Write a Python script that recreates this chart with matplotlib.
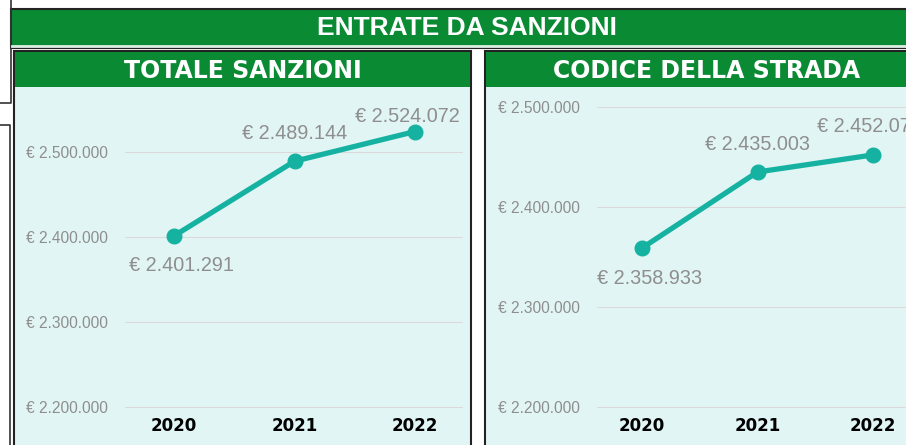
import matplotlib.pyplot as plt
from matplotlib.patches import Rectangle
from matplotlib.transforms import blended_transform_factory

years = [2020, 2021, 2022]
totale = [2401291, 2489144, 2524072]
codice = [2358933, 2435003, 2452075]
yticks = [2200000, 2300000, 2400000, 2500000]

title = "ENTRATE DA SANZIONI"
titles = ["TOTALE SANZIONI", "CODICE DELLA STRADA"]

W, H = 906, 445
GREEN = "#0B8A34"
TEAL = "#16B2A1"
BG = "#E2F5F5"
GRAY = "#8E8E8E"

plt.rcParams["font.family"] = ["Liberation Sans", "DejaVu Sans"]

fig = plt.figure(figsize=(W / 100, H / 100), dpi=100)
bg = fig.add_axes([0, 0, 1, 1])
bg.set_xlim(0, W)
bg.set_ylim(H, 0)
bg.axis("off")


def box(x0, y0, x1, y1, **kw):
    bg.add_patch(Rectangle((x0, y0), x1 - x0, y1 - y0, **kw))


# bits of other boxes on the far left
bg.plot([-5, 11, 11], [103, 103, -5], color="#333333", lw=1.2)
bg.plot([-5, 10, 10], [125, 125, 450], color="#333333", lw=1.2)

# top banner
box(11, 9, 930, 48, facecolor=GREEN, edgecolor="#222222", lw=1.5)
bg.plot([12, 930], [45.5, 45.5], color="#DDEEE4", lw=2)
bg.text(467, 28, title, color="white", fontsize=19, fontweight="bold",
        ha="center", va="center")

# panels
panels = [(14, 471), (485, 945)]
for (x0, x1), t in zip(panels, titles):
    box(x0, 51, x1, 460, facecolor=BG, edgecolor="#222222", lw=1.5)
    box(x0 + 1, 52, x1 - 1, 87, facecolor=GREEN, edgecolor="none")
    bg.text((x0 + x1) / 2 if x1 < 900 else 707, 71, t, color="white",
            fontsize=17, fontweight="bold", ha="center", va="center",
            family=["DejaVu Sans"])


def px(p):
    return 1 - p / H


def make_ax(left, right, top, bottom, xlim, ylim, vals, labs):
    ax = fig.add_axes([left / W, px(bottom), (right - left) / W, (bottom - top) / H])
    ax.set_facecolor("none")
    ax.set_xlim(*xlim)
    ax.set_ylim(*ylim)
    ax.plot(years, vals, color=TEAL, lw=3.8, marker="o", ms=10.5, zorder=3,
            clip_on=False)
    ax.set_yticks(yticks)
    ax.set_yticklabels(["€ " + f"{v:,}".replace(",", ".") for v in yticks],
                       color=GRAY, fontsize=11.2)
    ax.yaxis.grid(True, color="#DADADA", lw=0.8)
    ax.set_xticks([])
    tr = blended_transform_factory(ax.transData, ax.transAxes)
    for yr in years:
        ax.text(yr, -0.05, str(yr), transform=tr, ha="center", va="center",
                fontsize=12, fontweight="bold", color="black",
                family=["DejaVu Sans"])
    for yr, v, (dx, dy) in zip(years, vals, labs):
        ax.annotate("€ " + f"{v:,}".replace(",", "."), (yr, v),
                    xytext=(dx, dy), textcoords="offset pixels",
                    ha="center", va="center", fontsize=14.3, color=GRAY,
                    annotation_clip=False)
    ax.tick_params(axis="y", length=0, pad=12)
    for s in ax.spines.values():
        s.set_visible(False)
    return ax


# left: 2.500.000 at y=152, 85 px per 100k ; 2020 at x=174, 120.5 px/yr
def lim_y(p_ref, v_ref, ppu, top, bottom):
    return (v_ref - (bottom - p_ref) / ppu * 100000,
            v_ref + (p_ref - top) / ppu * 100000)


def lim_x(p0, ppy, left, right):
    return (2020 - (p0 - left) / ppy, 2020 + (right - p0) / ppy)


make_ax(125, 463, 90, 410, lim_x(174, 120.5, 125, 463),
        lim_y(152, 2500000, 85, 90, 410), totale,
        [(7, -30), (0, 28), (-8, 15)])

make_ax(597, 940, 90, 410, lim_x(642, 115.5, 597, 940),
        lim_y(107, 2500000, 100, 90, 410), codice,
        [(8, -30), (0, 27), (-4, 28)])

fig.savefig("out.png", dpi=100)
